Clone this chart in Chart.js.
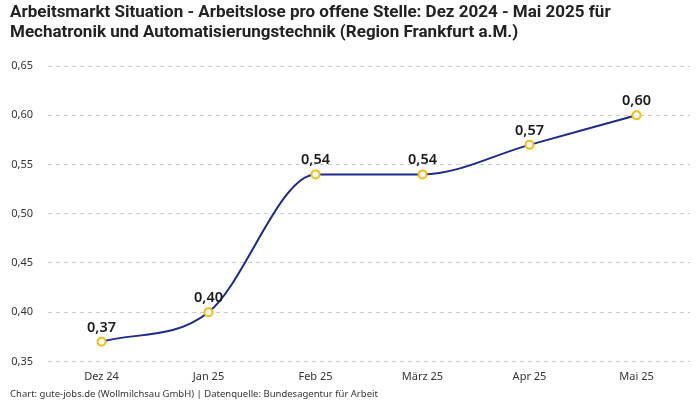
<!DOCTYPE html>
<html>
<head>
<meta charset="utf-8">
<script src="https://cdn.jsdelivr.net/npm/chart.js@4"></script>
<style>
  html, body { margin: 0; padding: 0; background: #fff; }
  #wrap { width: 700px; height: 400px; }
</style>
</head>
<body>
<div id="wrap"><canvas id="myChart"></canvas></div>
<script>
// Daten
const monate = ['Dez 24', 'Jan 25', 'Feb 25', 'März 25', 'Apr 25', 'Mai 25'];
const arbeitslosePROStelle = [0.37, 0.40, 0.54, 0.54, 0.57, 0.60];
const yTicks = [0.35, 0.40, 0.45, 0.50, 0.55, 0.60, 0.65];

const komma = v => v.toFixed(2).replace('.', ',');

// Werte über den Punkten zeichnen
const wertLabels = {
    id: 'wertLabels',
    afterDatasetsDraw(chart) {
        const ctx = chart.ctx;
        const meta = chart.getDatasetMeta(0);
        ctx.save();
        ctx.font = '600 14.5px "Noto Sans", Roboto, sans-serif';
        ctx.fillStyle = '#1a1a1a';
        ctx.textAlign = 'center';
        ctx.textBaseline = 'bottom';
        meta.data.forEach((pt, i) => {
            ctx.fillText(komma(arbeitslosePROStelle[i]), pt.x, pt.y - 7);
        });
        ctx.restore();
    }
};

document.addEventListener('DOMContentLoaded', function () {
    const ctx = document.getElementById('myChart').getContext('2d');
    Chart.defaults.font.family = '"Noto Sans", Roboto, sans-serif';
    Chart.defaults.color = '#333';

    new Chart(ctx, {
        type: 'line',
        data: {
            labels: monate,
            datasets: [{
                data: arbeitslosePROStelle,
                borderColor: '#1c2b8c',
                borderWidth: 2,
                cubicInterpolationMode: 'monotone',
                pointBackgroundColor: '#fff',
                pointBorderColor: '#f5bd14',
                pointBorderWidth: 2,
                pointRadius: 4,
                fill: false
            }]
        },
        options: {
            responsive: true,
            maintainAspectRatio: false,
            animation: false,
            layout: { padding: { left: 10, right: 10, top: 0, bottom: 0 } },
            scales: {
                x: {
                    offset: true,
                    grid: { display: false },
                    border: { display: false },
                    ticks: { font: { size: 11 }, color: '#333', padding: 1 }
                },
                y: {
                    min: 0.35,
                    max: 0.65,
                    afterBuildTicks: axis => { axis.ticks = yTicks.map(v => ({ value: v })); },
                    afterFit: axis => { axis.width = 38; },
                    grid: { color: '#cccccc', drawTicks: false },
                    border: { display: false, dash: [4, 4] },
                    ticks: {
                        font: { size: 11 },
                        color: '#333',
                        padding: 15,
                        callback: v => komma(v)
                    }
                }
            },
            plugins: {
                legend: { display: false },
                tooltip: { enabled: false },
                title: {
                    display: true,
                    text: ['Arbeitsmarkt Situation - Arbeitslose pro offene Stelle: Dez 2024 - Mai 2025 für',
                           'Mechatronik und Automatisierungstechnik (Region Frankfurt a.M.)'],
                    align: 'start',
                    color: '#222',
                    font: { size: 17, weight: 'bold', family: '"Liberation Sans Narrow", "Roboto", sans-serif', lineHeight: 1.15 },
                    padding: { top: 3, bottom: 24 }
                },
                subtitle: {
                    display: true,
                    position: 'bottom',
                    align: 'start',
                    text: 'Chart: gute-jobs.de (Wollmilchsau GmbH) | Datenquelle: Bundesagentur für Arbeit',
                    color: '#333',
                    font: { size: 9.5 },
                    padding: { top: 4, bottom: 0 }
                }
            }
        },
        plugins: [wertLabels]
    });
});
</script>
</body>
</html>
